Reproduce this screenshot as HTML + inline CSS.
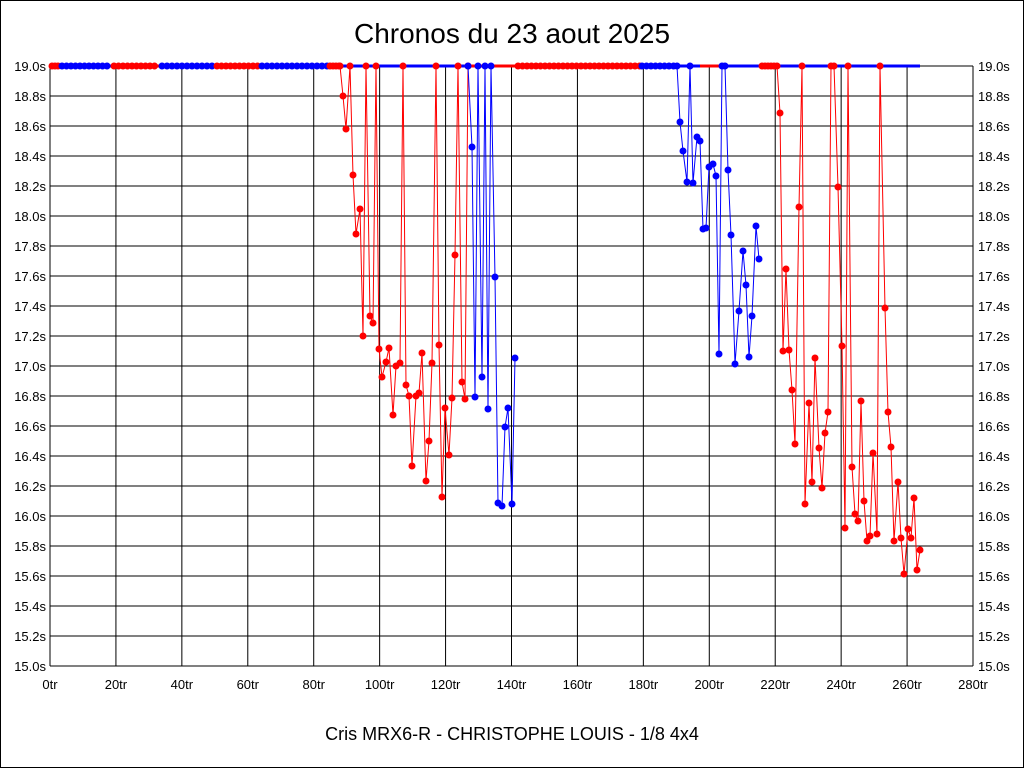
<!DOCTYPE html>
<html><head><meta charset="utf-8"><style>
html,body{margin:0;padding:0;background:#fff}
svg{display:block}
text{font-family:"Liberation Sans",sans-serif;fill:#000}
</style></head><body>
<svg id="s" width="1024" height="768" xmlns="http://www.w3.org/2000/svg">
<rect x="0.5" y="0.5" width="1023" height="767" fill="#fff" stroke="#000"/>
<text x="512" y="43" font-size="28" text-anchor="middle">Chronos du 23 aout 2025</text>
<text x="512" y="740" font-size="18" text-anchor="middle">Cris MRX6-R - CHRISTOPHE LOUIS - 1/8 4x4</text>
<g id="g"></g>
</svg>
<script>
var ns="http://www.w3.org/2000/svg",g=document.getElementById("g");
function el(t,a,txt){var e=document.createElementNS(ns,t);for(var k in a)e.setAttribute(k,a[k]);if(txt!=null)e.textContent=txt;g.appendChild(e);return e;}
var L=50,R=973,T=66,B=666;
for(var i=0;i<=20;i++){var y=T+i*30;el("line",{x1:L,x2:R,y1:y,y2:y,stroke:"#000","stroke-width":1});
var v=(19-i*0.2).toFixed(1)+"s";el("text",{x:46,y:y+5,"font-size":13,"text-anchor":"end"},v);el("text",{x:978,y:y+5,"font-size":13},v);}
for(var j=0;j<=14;j++){var x=L+j*(R-L)/14;el("line",{x1:x,x2:x,y1:T,y2:B,stroke:"#000","stroke-width":1});
el("text",{x:x,y:689,"font-size":13,"text-anchor":"middle"},(j*20)+"tr");}
function seg(x1,x2,c){el("line",{x1:x1,x2:x2,y1:66,y2:66,stroke:c,"stroke-width":3});}
var tops=[[50,60,"red"],[60,112,"blue"],[112,160,"red"],[160,215,"blue"],[215,260,"red"],[260,340,"blue"],[330,340,"red"],[340,470,"blue"],[470,490,"red"],[490,640,"red"],[640,700,"blue"],[700,722,"red"],[722,760,"blue"],[760,780,"red"],[780,920,"blue"]];
tops.forEach(function(t){seg(t[0],t[1],t[2]);});
function dots(a,b,c,step){for(var x=a;x<=b;x+=step)el("circle",{cx:x,cy:66,r:3.5,fill:c});}
dots(52,58,"red",3);dots(62,110,"blue",4.5);dots(114,158,"red",4.5);dots(162,212,"blue",5);dots(217,258,"red",4.5);dots(262,328,"blue",5);dots(330,340,"red",3);
dots(518,640,"red",4.5);dots(642,676,"blue",4.5);dots(762,776,"red",3);
function series(pts,c){var d="";pts.forEach(function(p,i){d+=(i?"L":"M")+p[0]+" "+p[1];});
el("path",{d:d,fill:"none",stroke:c,"stroke-width":1});pts.forEach(function(p){el("circle",{cx:p[0],cy:p[1],r:3.5,fill:c});});}
series([[340,66],[343,96],[346,129],[350,66],[353,175],[356,234],[360,209],[363,336],[366,66],[370,316],[373,323],[376,66],[379,349],[382,377],[386,362],[389,348],[393,415],[396,366],[400,363],[403,66],[406,385],[409,396],[412,466],[416,396],[419,393],[422,353],[426,481],[429,441],[432,363],[436,66],[439,345],[442,497],[445,408],[449,455],[452,398],[455,255],[458,66],[462,382],[465,399],[468,66]],"red");
series([[468,66],[472,147],[475,397],[478,66],[482,377],[485,66],[488,409],[491,66],[495,277],[498,503],[502,506],[505,427],[508,408],[512,504],[515,358]],"blue");
series([[677,66],[680,122],[683,151],[687,182],[690,66],[693,183],[697,137],[700,141],[703,229],[706,228],[709,167],[713,164],[716,176],[719,354],[722,66],[725,66],[728,170],[731,235],[735,364],[739,311],[743,251],[746,285],[749,357],[752,316],[756,226],[759,259]],"blue");
series([[777,66],[780,113],[783,351],[786,269],[789,350],[792,390],[795,444],[799,207],[802,66],[805,504],[809,403],[812,482],[815,358],[819,448],[822,488],[825,433],[828,412],[831,66],[834,66],[838,187],[842,346],[845,528],[848,66],[852,467],[855,514],[858,521],[861,401],[864,501],[867,541],[870,536],[873,453],[877,534],[880,66],[885,308],[888,412],[891,447],[894,541],[898,482],[901,538],[904,574],[908,529],[911,538],[914,498],[917,570],[920,550]],"red");
</script>
</body></html>
